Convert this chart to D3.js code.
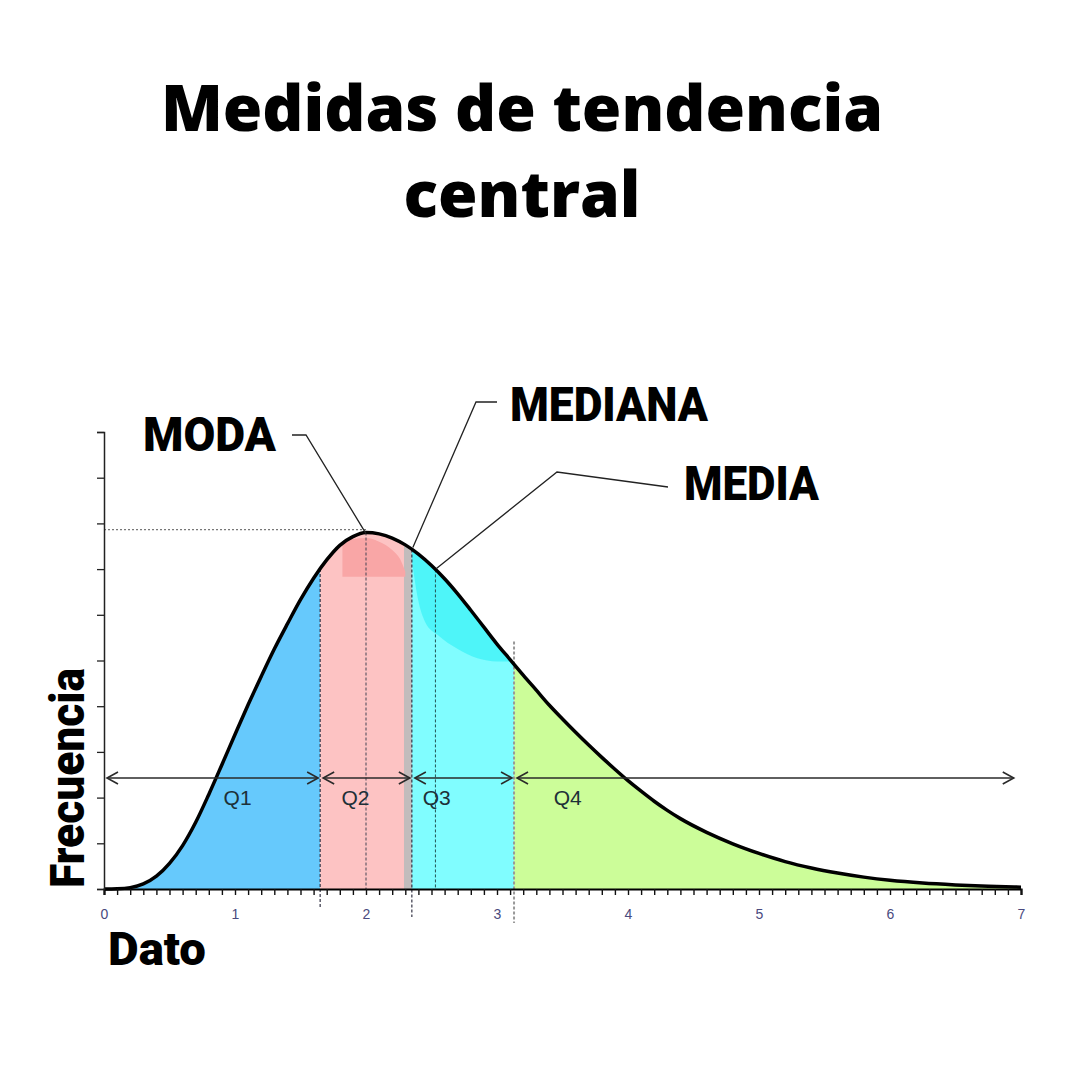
<!DOCTYPE html>
<html><head><meta charset="utf-8">
<script src="https://cdn.jsdelivr.net/npm/d3@7"></script>
<style>body{margin:0;background:#fff}</style>
</head><body>
<svg id="c" width="1080" height="1080"></svg>
<script>
// ---- data ----
const datoX       = [0, 0.1, 0.2, 0.3, 0.4, 0.5, 0.6, 0.7, 0.8, 0.9, 1.0, 1.1, 1.2, 1.3, 1.4, 1.5, 1.6, 1.7, 1.8, 1.9, 2.0, 2.1, 2.2, 2.3, 2.4, 2.5, 2.6, 2.7, 2.8, 2.9, 3.0, 3.1, 3.2, 3.3, 3.4, 3.5, 3.6, 3.7, 3.8, 3.9, 4.0, 4.1, 4.2, 4.3, 4.4, 4.6, 4.8, 5.0, 5.2, 5.4, 5.6, 5.8, 6.0, 6.25, 6.5, 6.75, 7.0];
const frecuenciaY = [0, 0.005, 0.03, 0.11, 0.28, 0.56, 0.95, 1.46, 2.07, 2.72, 3.38, 4.03, 4.65, 5.25, 5.8, 6.33, 6.8, 7.2, 7.52, 7.71, 7.8, 7.77, 7.68, 7.53, 7.33, 7.08, 6.79, 6.46, 6.1, 5.73, 5.36, 5.02, 4.68, 4.35, 4.02, 3.72, 3.43, 3.15, 2.88, 2.62, 2.37, 2.14, 1.92, 1.72, 1.54, 1.24, 0.99, 0.78, 0.6, 0.46, 0.35, 0.26, 0.19, 0.13, 0.09, 0.06, 0.04];
const xTickLabels = ["0", "1", "2", "3", "4", "5", "6", "7"];
const yTickValues = [0, 1, 2, 3, 4, 5, 6, 7, 8, 9, 10];
const moda = 2.0, mediana = 2.35, media = 2.53;
const regionStart = [0, 1.65, 2.29, 2.35, 3.13];
const regionEnd   = [1.65, 2.29, 2.35, 3.13, 7];
const arrowBounds = [0, 1.65, 2.35, 3.13, 6.96];
const qLabels = ["Q1", "Q2", "Q3", "Q4"];
const qLabelX = [1.02, 1.92, 2.54, 3.54];
const arrowLevel = 2.43;
// shading artefacts of the original picture
const patchX   = [1.82, 1.9, 2.0, 2.1, 2.2, 2.26, 2.30];
const patchTop = [7.62, 7.66, 7.68, 7.6, 7.42, 7.22, 6.95];
const patchBottom = 6.83;
const blobX      = [2.35, 2.40, 2.45, 2.55, 2.7, 2.85, 3.0, 3.1];
const blobBottom = [7.2, 6.3, 5.85, 5.55, 5.25, 5.05, 4.98, 4.98];

// ---- drawing ----
const svg = d3.select("#c");
const x = d3.scaleLinear([0, 7], [104, 1021]);
const y = d3.scaleLinear([0, 10], [889, 432]);
const pts = datoX.map((d, i) => [d, frecuenciaY[i]]);
const curveAt = v => {
  for (let i = 1; i < datoX.length; i++) if (v <= datoX[i]) {
    const t = (v - datoX[i-1]) / (datoX[i] - datoX[i-1]);
    return frecuenciaY[i-1] + t * (frecuenciaY[i] - frecuenciaY[i-1]);
  }
  return frecuenciaY[frecuenciaY.length - 1];
};
const peak = d3.max(frecuenciaY);

const curve = d3.curveMonotoneX;
const area = d3.area().x(d => x(d[0])).y0(y(0)).y1(d => y(d[1])).curve(curve);
const line = d3.line().x(d => x(d[0])).y(d => y(d[1])).curve(curve);

svg.append("defs").append("clipPath").attr("id", "under")
  .append("path").attr("d", area(pts));

const colors = ["#66c9fc", "#fdc3c3", "#c2bcbc", "#80fdff", "#ccfd99"];
const g = svg.append("g").attr("clip-path", "url(#under)");
g.selectAll("rect.reg").data(regionStart).join("rect")
  .attr("x", (d) => x(d)).attr("width", (d, i) => x(regionEnd[i]) - x(d))
  .attr("y", y(10)).attr("height", y(0) - y(10))
  .attr("fill", (d, i) => colors[i]);

// artefact patches
const pArea = d3.area().x((d, i) => x(patchX[i])).y0(y(patchBottom)).y1((d, i) => y(patchTop[i])).curve(d3.curveMonotoneX);
g.append("path").attr("d", pArea(patchX)).attr("fill", "#f9a6a6");
const bArea = d3.area().x((d, i) => x(blobX[i])).y0((d, i) => y(blobBottom[i])).y1(y(9)).curve(d3.curveMonotoneX);
g.append("path").attr("d", bArea(blobX)).attr("fill", "#45f3f8").attr("opacity", 0.85);

// horizontal dotted line at peak
svg.append("line").attr("x1", x(0)).attr("x2", x(moda)).attr("y1", y(peak) - 3).attr("y2", y(peak) - 3)
  .attr("stroke", "#777").attr("stroke-width", 1.2).attr("stroke-dasharray", "2,2");

// vertical dotted lines
const vlines = [
  {v: 1.65, top: curveAt(1.65), bottom: 908, color: "#334", w: 1.2},
  {v: moda, top: peak, bottom: 889, color: "#445", w: 1},
  {v: mediana, top: curveAt(mediana), bottom: 917, color: "#334", w: 1.2},
  {v: media, top: curveAt(media), bottom: 889, color: "#255", w: 1},
  {v: 3.13, top: curveAt(3.13) + 0.5, bottom: 923, color: "#999", w: 2}
];
svg.selectAll("line.v").data(vlines).join("line")
  .attr("x1", d => x(d.v)).attr("x2", d => x(d.v))
  .attr("y1", d => y(d.top)).attr("y2", d => d.bottom)
  .attr("stroke", d => d.color).attr("stroke-width", d => d.w).attr("stroke-dasharray", "3,2");

// curve
svg.append("path").attr("d", line(pts)).attr("fill", "none")
  .attr("stroke", "#000").attr("stroke-width", 3.5).attr("stroke-linejoin", "round");

// axes
const xAxis = d3.axisBottom(x).tickValues(d3.range(0, 71).map(i => i / 10)).tickSize(6).tickPadding(14)
  .tickFormat(d => Math.abs(d - Math.round(d)) < 1e-6 ? xTickLabels[Math.round(d)] : "");
const gx = svg.append("g").attr("transform", `translate(0,${y(0)})`).call(xAxis);
gx.select(".domain").attr("stroke", "#000").attr("stroke-width", 2.2);
gx.selectAll(".tick line").attr("stroke", "#111").attr("stroke-width", 1.4);
gx.selectAll(".tick text").attr("fill", "#4a4a7e").style("font-family", "Liberation Sans, Arial, sans-serif").style("font-size", "14px");

const yAxis = d3.axisLeft(y).tickValues(yTickValues).tickSize(7).tickFormat("");
const gy = svg.append("g").attr("transform", `translate(${x(0)},0)`).call(yAxis);
gy.select(".domain").attr("stroke", "#222").attr("stroke-width", 1.5);
gy.selectAll(".tick line").attr("stroke", "#222").attr("stroke-width", 1.3);

// quartile arrows
const ay = y(arrowLevel);
const arrows = qLabels.map((q, i) => ({a: x(arrowBounds[i]) + 3, b: x(arrowBounds[i+1]) - 2}));
const ag = svg.append("g").attr("stroke", "#2a2a2a").attr("stroke-width", 1.6).attr("fill", "none");
arrows.forEach(d => {
  ag.append("line").attr("x1", d.a).attr("x2", d.b).attr("y1", ay).attr("y2", ay);
  ag.append("path").attr("d", `M${d.a + 11},${ay - 6}L${d.a},${ay}L${d.a + 11},${ay + 6}`);
  ag.append("path").attr("d", `M${d.b - 11},${ay - 6}L${d.b},${ay}L${d.b - 11},${ay + 6}`);
});
svg.selectAll("text.q").data(qLabels).join("text")
  .attr("x", (d, i) => x(qLabelX[i])).attr("y", ay + 27)
  .attr("text-anchor", "middle").attr("fill", "#1d3038")
  .style("font-family", "Liberation Sans, Arial, sans-serif").style("font-size", "21px")
  .text(d => d);

// annotations
const lead = svg.append("g").attr("stroke", "#222").attr("stroke-width", 1.3).attr("fill", "none");
lead.append("path").attr("d", `M292,435L306,435L${x(moda)},${y(peak) + 1}`);
lead.append("path").attr("d", `M497,402L476,402L${x(mediana) + 1},${y(curveAt(mediana)) - 2}`);
lead.append("path").attr("d", `M668,487L557,472L${x(media) + 1},${y(curveAt(media)) - 1}`);

const bold = (t, px, py, size, len) => svg.append("text").attr("x", px).attr("y", py)
  .attr("textLength", len).attr("lengthAdjust", "spacingAndGlyphs")
  .style("font-family", "Roboto, sans-serif").style("font-weight", 900).style("font-size", size + "px")
  .attr("fill", "#000").text(t);
bold("MODA", 143, 451, 48, 133);
bold("MEDIANA", 510, 421, 48, 198);
bold("MEDIA", 684, 500, 48, 135);
bold("Dato", 108, 965, 46, 98);
svg.append("text").attr("transform", "translate(84,888) rotate(-90)")
  .attr("textLength", 220).attr("lengthAdjust", "spacingAndGlyphs")
  .style("font-family", "Roboto, sans-serif").style("font-weight", 900).style("font-size", "48px")
  .text("Frecuencia");

// title
const title = ["Medidas de tendencia", "central"];
svg.selectAll("text.t").data(title).join("text")
  .attr("x", 522).attr("y", (d, i) => 131 + i * 86).attr("text-anchor", "middle")
  .style("font-family", "Open Sans, sans-serif").style("font-weight", 800).style("font-size", "64px")
  .attr("fill", "#000").text(d => d);
</script>
</body></html>
